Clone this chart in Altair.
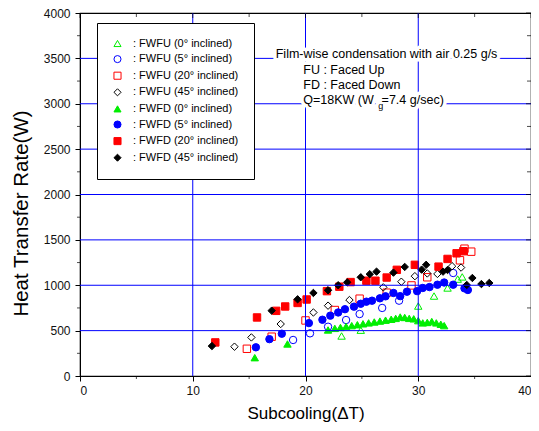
import altair as alt
import pandas as pd

# ---------------- data ----------------
series_names = [
    "FWFU (0° inclined)",
    "FWFU (5° inclined)",
    "FWFU (20° inclined)",
    "FWFU (45° inclined)",
    "FWFD (0° inclined)",
    "FWFD (5° inclined)",
    "FWFD (20° inclined)",
    "FWFD (45° inclined)",
]

fwfu0_x = [23.2, 24.9, 30.0, 31.4, 32.6, 33.5, 33.9]
fwfu0_y = [441, 505, 771, 881, 970, 1068, 1092]

fwfu5_x = [18.9, 20.4, 22.0, 23.6, 24.8, 26.8, 28.3, 33.1]
fwfu5_y = [397, 470, 543, 617, 683, 750, 830, 1135]

fwfu20_x = [14.8, 17.0, 20.0, 22.6, 24.8, 27.2, 29.4, 30.8, 33.7, 34.1, 34.7]
fwfu20_y = [300, 433, 612, 727, 852, 918, 998, 1088, 1275, 1403, 1370]

fwfu45_x = [13.7, 15.2, 17.8, 20.7, 22.0, 23.9, 26.9, 28.5, 29.7, 30.8, 31.7, 33.0, 33.8]
fwfu45_y = [323, 425, 573, 700, 775, 837, 977, 1039, 1100, 1130, 1125, 1210, 1195]

fwfd0_x = [15.5, 18.4, 22.0, 22.6, 23.1, 23.6, 24.1, 24.6, 25.1, 25.6, 26.1, 26.6,
           27.1, 27.6, 28.0, 28.4, 28.8, 29.2, 29.6, 30.0, 30.4, 30.8, 31.2, 31.6,
           32.0, 32.3]
fwfd0_y = [202, 353, 507, 525, 535, 545, 555, 565, 575, 585, 595, 605,
           615, 625, 635, 650, 645, 635, 630, 610, 585, 590, 600, 585,
           570, 555]

fwfd5_x = [15.6, 16.8, 17.9, 20.3, 21.5, 22.2, 22.9, 23.5, 24.3, 24.9, 25.4, 25.9,
           26.6, 27.1, 27.8, 28.4, 29.0, 29.9, 30.4, 31.0, 31.7, 32.3, 33.1, 34.1,
           34.4]
fwfd5_y = [316, 406, 466, 583, 620, 665, 700, 736, 764, 796, 819, 830,
           856, 878, 915, 880, 929, 935, 970, 980, 1006, 1030, 1006, 966,
           948]

fwfd20_x = [12.0, 15.7, 17.4, 18.2, 19.3, 20.1, 21.9, 23.0, 24.0, 25.4, 26.2, 27.2,
            28.1, 29.7, 31.8, 32.6, 33.4, 34.0]
fwfd20_y = [370, 645, 718, 766, 805, 843, 935, 984, 1035, 1050, 1050, 1085,
            1170, 1225, 1205, 1290, 1352, 1375]

fwfd45_x = [11.7, 17.0, 19.3, 20.7, 22.0, 22.9, 23.7, 24.9, 25.7, 26.3, 27.8, 28.8,
            30.3, 30.7, 32.2, 32.6, 34.3, 34.8, 35.6, 36.3]
fwfd45_y = [330, 720, 845, 915, 945, 1000, 1032, 1088, 1122, 1150, 1139, 1202,
            1172, 1225, 1150, 1168, 1003, 1080, 1013, 1025]

all_x = [fwfu0_x, fwfu5_x, fwfu20_x, fwfu45_x, fwfd0_x, fwfd5_x, fwfd20_x, fwfd45_x]
all_y = [fwfu0_y, fwfu5_y, fwfu20_y, fwfu45_y, fwfd0_y, fwfd5_y, fwfd20_y, fwfd45_y]

stroke_colors = ["#00ee00", "#0000ff", "#ff0000", "#000000",
                 "#00ee00", "#0000ff", "#ff0000", "#000000"]
fill_colors = ["transparent", "transparent", "transparent", "transparent",
               "#00ee00", "#0000ff", "#ff0000", "#000000"]
shapes = ["triangle-up", "circle", "square", "diamond",
          "triangle-up", "circle", "square", "diamond"]

x_major = [0, 10, 20, 30, 40]
x_minor = [5, 15, 25, 35]
y_major = [0, 500, 1000, 1500, 2000, 2500, 3000, 3500, 4000]
y_minor = [250, 750, 1250, 1750, 2250, 2750, 3250, 3750]
x_grid = [10, 20, 30]
y_grid = [500, 1000, 1500, 2000, 2500, 3000, 3500]

ann_text = ["Film-wise condensation with air 0.25 g/s", "FU : Faced Up",
            "FD : Faced Down", "Q=18KW (W", "g", "=7.4 g/sec)"]
ann_x = [17.36, 19.8, 19.8, 19.8, 26.45, 26.75]
ann_y = [3548, 3372, 3207, 3041, 2980, 3041]
ann_fs = [12.5, 12.5, 12.5, 12.5, 9, 12.5]

# ---------------- build ----------------
rows = []
for name, xs, ys in zip(series_names, all_x, all_y):
    for xv, yv in zip(xs, ys):
        rows.append({"series": name, "x": xv, "y": yv})
df = pd.DataFrame(rows)

W, H = 451, 363
FONT = "Liberation Sans"
XT = "Subcooling(ΔT)"
YT = "Heat Transfer Rate(W)"
xs_ = alt.Scale(domain=[0, 40], nice=False, zero=False)
ys_ = alt.Scale(domain=[0, 4000], nice=False, zero=False)
xaxis = alt.Axis(values=x_major, grid=False, tickSize=5, labelPadding=4,
                 titlePadding=9, format="d")
yaxis = alt.Axis(values=y_major, grid=False, tickSize=5, labelPadding=5,
                 titlePadding=12, titleY=200, format="d")


def X(f):
    return alt.X(f, scale=xs_, title=XT, axis=xaxis)


def Y(f):
    return alt.Y(f, scale=ys_, title=YT, axis=yaxis)


xgrid = alt.Chart(pd.DataFrame({"v": x_grid})).mark_rule(color="#0000ff", strokeWidth=1).encode(
    x=X("v:Q"))
ygrid = alt.Chart(pd.DataFrame({"v": y_grid})).mark_rule(color="#0000ff", strokeWidth=1).encode(
    y=Y("v:Q"))

ann = pd.DataFrame({"t": ann_text, "x": ann_x, "y": ann_y, "fs": ann_fs})
halo = alt.Chart(ann).mark_text(align="left", baseline="middle", font=FONT, color="white",
                                stroke="white", strokeWidth=7, strokeJoin="round").encode(
    x=X("x:Q"), y=Y("y:Q"),
    text="t:N", size=alt.Size("fs:Q", scale=None, legend=None))
txt = alt.Chart(ann).mark_text(align="left", baseline="middle", font=FONT, color="black").encode(
    x=X("x:Q"), y=Y("y:Q"),
    text="t:N", size=alt.Size("fs:Q", scale=None, legend=None))

legend = alt.Legend(
    title=None, orient="none", legendX=17, legendY=10,
    strokeColor="black", fillColor="white", padding=15,
    labelFont=FONT, labelFontSize=11, labelColor="black",
    labelExpr="': ' + datum.label", symbolSize=50, symbolStrokeWidth=1,
    rowPadding=3.6, labelOffset=10, symbolOffset=0,
)

points = alt.Chart(df).mark_point(filled=False, size=55, strokeWidth=1, opacity=1).encode(
    x=X("x:Q"),
    y=Y("y:Q"),
    color=alt.Color("series:N", scale=alt.Scale(domain=series_names, range=stroke_colors), legend=legend),
    fill=alt.Fill("series:N", scale=alt.Scale(domain=series_names, range=fill_colors), legend=legend),
    shape=alt.Shape("series:N", scale=alt.Scale(domain=series_names, range=shapes), legend=legend),
)

tick_major_x = pd.DataFrame({"v": x_major})
tick_minor_x = pd.DataFrame({"v": x_minor})
tick_major_y = pd.DataFrame({"v": y_major})
tick_minor_y = pd.DataFrame({"v": y_minor})

top_major = alt.Chart(tick_major_x).mark_tick(color="black", size=5, thickness=1, orient="vertical",
                                              yOffset=2.5).encode(x=X("v:Q"), y=alt.value(0))
top_minor = alt.Chart(tick_minor_x).mark_tick(color="black", size=4, thickness=1, orient="vertical",
                                              yOffset=2).encode(x=X("v:Q"), y=alt.value(0))
bot_minor = alt.Chart(tick_minor_x).mark_tick(color="black", size=3, thickness=1, orient="vertical",
                                              yOffset=1.5).encode(x=X("v:Q"), y=alt.value(H))
right_major = alt.Chart(tick_major_y).mark_tick(color="black", size=5, thickness=1, orient="horizontal",
                                                xOffset=-2.5).encode(y=Y("v:Q"), x=alt.value(W))
right_minor = alt.Chart(tick_minor_y).mark_tick(color="black", size=4, thickness=1, orient="horizontal",
                                                xOffset=-2).encode(y=Y("v:Q"), x=alt.value(W))
left_minor = alt.Chart(tick_minor_y).mark_tick(color="black", size=3, thickness=1, orient="horizontal",
                                               xOffset=-1.5).encode(y=Y("v:Q"), x=alt.value(0))

chart = alt.layer(
    points, xgrid, ygrid, halo, txt,
    top_major, top_minor, bot_minor, right_major, right_minor, left_minor,
).properties(
    width=W, height=H,
    autosize=alt.AutoSizeParams(type="none"),
    padding={"left": 72, "top": 5, "right": 0, "bottom": 47},
).configure_view(
    stroke="black", strokeWidth=1.2
).configure_axis(
    domainColor="black", tickColor="black", labelColor="#111", titleColor="black",
    labelFont=FONT, titleFont=FONT, labelFontSize=12, titleFontWeight="normal",
).configure_axisY(
    titleFontSize=20.5
).configure_axisX(
    titleFontSize=17
)

chart.save("out.html", embed_options={"renderer": "svg", "actions": False})
